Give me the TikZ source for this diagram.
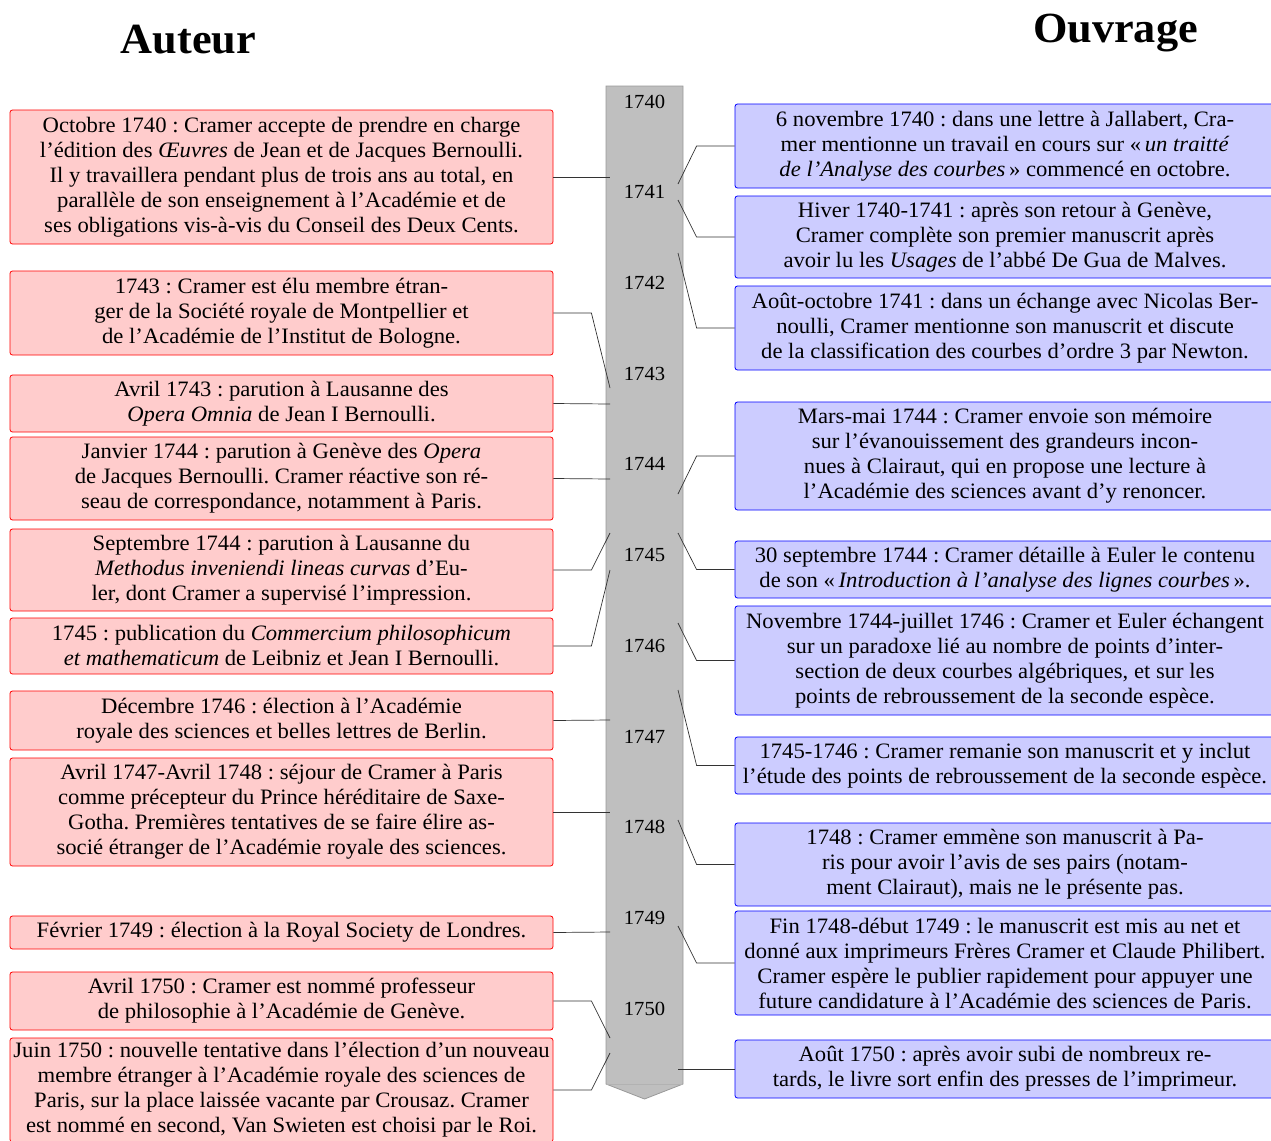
\documentclass[tikz,border=0pt]{standalone}
\usepackage{fontspec}
\setmainfont{Liberation Serif}[FakeStretch=1.03]
\frenchspacing
\begin{document}
\begin{tikzpicture}[x=1pt,y=-1pt,
  txt/.style={inner sep=0pt,align=center,font=\fontsize{22}{25}\selectfont\frenchspacing,
    rounded corners=2.5pt,line width=0.8pt},
  lbox/.style={txt,draw=red,fill=red!20,minimum width=543pt},
  rbox/.style={txt,draw=blue,fill=blue!20,minimum width=540pt},
  conn/.style={draw=black!80,line width=0.7pt},
  yearlbl/.style={font=\fontsize{20}{24}\selectfont,inner sep=0pt},
  heading/.style={font=\fontsize{43}{50}\selectfont\bfseries,inner sep=0pt,anchor=base}]
\useasboundingbox (0,0) rectangle (1271,1140);
% headings
\node[heading] (hA) at (188.5,53) {Auteur};
\node[heading] (hO) at (1115.5,43) {Ouvrage};
% timeline bar
\path[fill=black!25,draw=black!40,line width=0.8pt]
  (606,86) -- (683,86) -- (683,1084) -- (644.5,1099) -- (606,1084) -- cycle;
\draw[black!30,line width=0.6pt] (606,1084) -- (683,1084);
\foreach \i/\yr in {0/1740,1/1741,2/1742,3/1743,4/1744,5/1745,6/1746,7/1747,8/1748,9/1749,10/1750}
  \node[yearlbl] (y\yr) at (644.5,{101.5+90.7*\i}) {\yr};
% timeline anchor points
\coordinate (tl1) at (610,177);
\coordinate (tl2) at (610,388);
\coordinate (tl3) at (610,404);
\coordinate (tl4) at (610,479);
\coordinate (tl5) at (610,533);
\coordinate (tl6) at (610,570);
\coordinate (tl7) at (610,720);
\coordinate (tl8) at (610,812);
\coordinate (tl9) at (610,932);
\coordinate (tl10) at (610,1038);
\coordinate (tl11) at (610,1053);
\coordinate (tr1) at (678,184);
\coordinate (tr2) at (678,200);
\coordinate (tr3) at (678,253);
\coordinate (tr4) at (678,494);
\coordinate (tr5) at (678,533);
\coordinate (tr6) at (678,623);
\coordinate (tr7) at (678,690);
\coordinate (tr8) at (678,820);
\coordinate (tr9) at (678,926);
\coordinate (tr10) at (678,1069);
% left boxes
\node[lbox,minimum height=134pt] (L1) at (281.5,177) {Octobre 1740 : Cramer accepte de prendre en charge\\l’édition des \emph{Œuvres} de Jean et de Jacques Bernoulli.\\Il y travaillera pendant plus de trois ans au total, en\\parallèle de son enseignement à l’Académie et de\\ses obligations vis-à-vis du Conseil des Deux Cents.};
\node[lbox,minimum height=84pt] (L2) at (281.5,313) {1743 : Cramer est élu membre étran-\\ger de la Société royale de Montpellier et\\de l’Académie de l’Institut de Bologne.};
\node[lbox,minimum height=57pt] (L3) at (281.5,403.5) {Avril 1743 : parution à Lausanne des\\\emph{Opera Omnia} de Jean I Bernoulli.};
\node[lbox,minimum height=83pt] (L4) at (281.5,478.5) {Janvier 1744 : parution à Genève des \emph{Opera}\\de Jacques Bernoulli. Cramer réactive son ré-\\seau de correspondance, notamment à Paris.};
\node[lbox,minimum height=82pt] (L5) at (281.5,570) {Septembre 1744 : parution à Lausanne du\\\emph{Methodus inveniendi lineas curvas} d’Eu-\\ler, dont Cramer a supervisé l’impression.};
\node[lbox,minimum height=56pt] (L6) at (281.5,646) {1745 : publication du \emph{Commercium philosophicum}\\\emph{et mathematicum} de Leibniz et Jean I Bernoulli.};
\node[lbox,minimum height=59pt] (L7) at (281.5,720.5) {Décembre 1746 : élection à l’Académie\\royale des sciences et belles lettres de Berlin.};
\node[lbox,minimum height=108pt] (L8) at (281.5,812) {Avril 1747-Avril 1748 : séjour de Cramer à Paris\\comme précepteur du Prince héréditaire de Saxe-\\Gotha. Premières tentatives de se faire élire as-\\socié étranger de l’Académie royale des sciences.};
\node[lbox,minimum height=33pt] (L9) at (281.5,932.5) {Février 1749 : élection à la Royal Society de Londres.};
\node[lbox,minimum height=58pt] (L10) at (281.5,1001) {Avril 1750 : Cramer est nommé professeur\\de philosophie à l’Académie de Genève.};
\node[lbox,minimum height=104pt] (L11) at (281.5,1090) {Juin 1750 : nouvelle tentative dans l’élection d’un nouveau\\membre étranger à l’Académie royale des sciences de\\Paris, sur la place laissée vacante par Crousaz. Cramer\\est nommé en second, Van Swieten est choisi par le Roi.};
% right boxes
\node[rbox,minimum height=84pt] (R1) at (1005,146) {6 novembre 1740 : dans une lettre à Jallabert, Cra-\\mer mentionne un travail en cours sur «\,\emph{un traitté}\\\emph{de l’Analyse des courbes}\,» commencé en octobre.};
\node[rbox,minimum height=82pt] (R2) at (1005,237) {Hiver 1740-1741 : après son retour à Genève,\\Cramer complète son premier manuscrit après\\avoir lu les \emph{Usages} de l’abbé De Gua de Malves.};
\node[rbox,minimum height=84pt] (R3) at (1005,328) {Août-octobre 1741 : dans un échange avec Nicolas Ber-\\noulli, Cramer mentionne son manuscrit et discute\\de la classification des courbes d’ordre 3 par Newton.};
\node[rbox,minimum height=108pt] (R4) at (1005,456) {Mars-mai 1744 : Cramer envoie son mémoire\\sur l’évanouissement des grandeurs incon-\\nues à Clairaut, qui en propose une lecture à\\l’Académie des sciences avant d’y renoncer.};
\node[rbox,minimum height=57pt] (R5) at (1005,569.5) {30 septembre 1744 : Cramer détaille à Euler le contenu\\de son «\,\emph{Introduction à l’analyse des lignes courbes}\,».};
\node[rbox,minimum height=109pt] (R6) at (1005,660.5) {Novembre 1744-juillet 1746 : Cramer et Euler échangent\\sur un paradoxe lié au nombre de points d’inter-\\section de deux courbes algébriques, et sur les\\points de rebroussement de la seconde espèce.};
\node[rbox,minimum height=57pt] (R7) at (1005,765.5) {1745-1746 : Cramer remanie son manuscrit et y inclut\\l’étude des points de rebroussement de la seconde espèce.};
\node[rbox,minimum height=83pt] (R8) at (1005,864.5) {1748 : Cramer emmène son manuscrit à Pa-\\ris pour avoir l’avis de ses pairs (notam-\\ment Clairaut), mais ne le présente pas.};
\node[rbox,minimum height=104pt] (R9) at (1005,963) {Fin 1748-début 1749 : le manuscrit est mis au net et\\donné aux imprimeurs Frères Cramer et Claude Philibert.\\Cramer espère le publier rapidement pour appuyer une\\future candidature à l’Académie des sciences de Paris.};
\node[rbox,minimum height=58pt] (R10) at (1005,1069) {Août 1750 : après avoir subi de nombreux re-\\tards, le livre sort enfin des presses de l’imprimeur.};
% left connectors
\draw[conn] (L1.east) -- (tl1);
\draw[conn] (L2.east) -- ++(38,0) -- (tl2);
\draw[conn] (L3.east) -- (tl3);
\draw[conn] (L4.east) -- (tl4);
\draw[conn] (L5.east) -- ++(38,0) -- (tl5);
\draw[conn] (L6.east) -- ++(38,0) -- (tl6);
\draw[conn] (L7.east) -- (tl7);
\draw[conn] (L8.east) -- (tl8);
\draw[conn] (L9.east) -- (tl9);
\draw[conn] (L10.east) -- ++(38,0) -- (tl10);
\draw[conn] (L11.east) -- ++(38,0) -- (tl11);
% right connectors
\draw[conn] (R1.west) -- ++(-38,0) -- (tr1);
\draw[conn] (R2.west) -- ++(-38,0) -- (tr2);
\draw[conn] (R3.west) -- ++(-38,0) -- (tr3);
\draw[conn] (R4.west) -- ++(-38,0) -- (tr4);
\draw[conn] (R5.west) -- ++(-38,0) -- (tr5);
\draw[conn] (R6.west) -- ++(-38,0) -- (tr6);
\draw[conn] (R7.west) -- ++(-38,0) -- (tr7);
\draw[conn] (R8.west) -- ++(-38,0) -- (tr8);
\draw[conn] (R9.west) -- ++(-38,0) -- (tr9);
\draw[conn] (R10.west) -- (tr10);
\end{tikzpicture}
\end{document}
